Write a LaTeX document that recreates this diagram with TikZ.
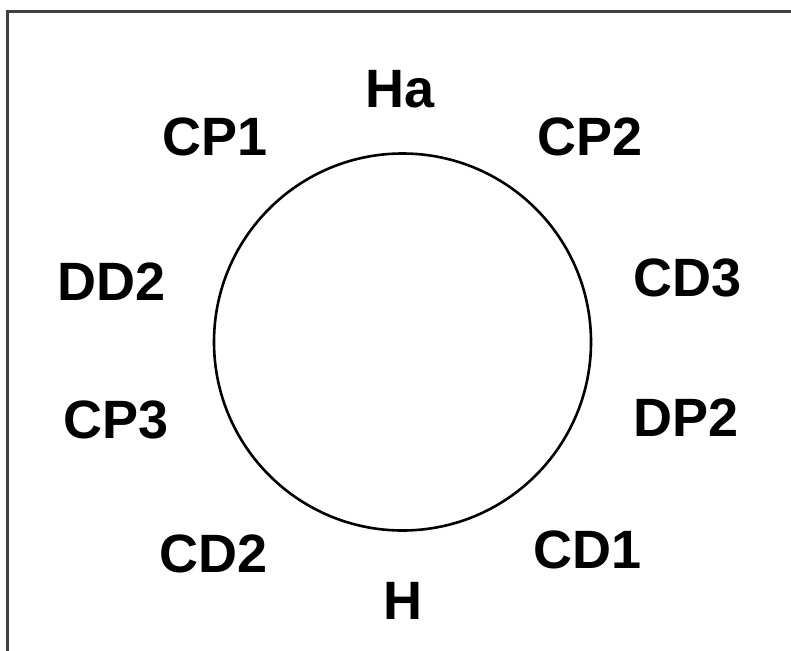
\documentclass[tikz,border=0pt]{standalone}
\usepackage{fontspec}
\setmainfont{Liberation Sans}
\begin{document}
\begin{tikzpicture}[x=1pt,y=-1pt,
  lbl/.style={anchor=base, inner sep=0pt, font=\fontsize{54}{62}\selectfont\bfseries},
  ring/.style={draw=black, line width=2.6pt},
  frame/.style={draw=black!75, line width=3pt}]
\useasboundingbox (0,0) rectangle (791,650);
% frame, open to the right and bottom
\draw[frame] (7.5,660) -- (7.5,11.5) -- (800,11.5);
% central ring
\node[ring, circle, minimum size=377pt, inner sep=0pt] (c) at (402.5,342) {};
% labels round the ring
\node[lbl] (ha)  at (400,107) {Ha};
\node[lbl] (h)   at (403,619) {H};
\node[lbl] (cp1) at (215,155) {CP1};
\node[lbl] (cp2) at (590,155) {CP2};
\node[lbl] (dd2) at (112,300) {DD2};
\node[lbl] (cd3) at (688,296) {CD3};
\node[lbl] (cp3) at (116,438) {CP3};
\node[lbl] (dp2) at (686,436) {DP2};
\node[lbl] (cd2) at (214,572) {CD2};
\node[lbl] (cd1) at (588,568) {CD1};
\end{tikzpicture}
\end{document}
